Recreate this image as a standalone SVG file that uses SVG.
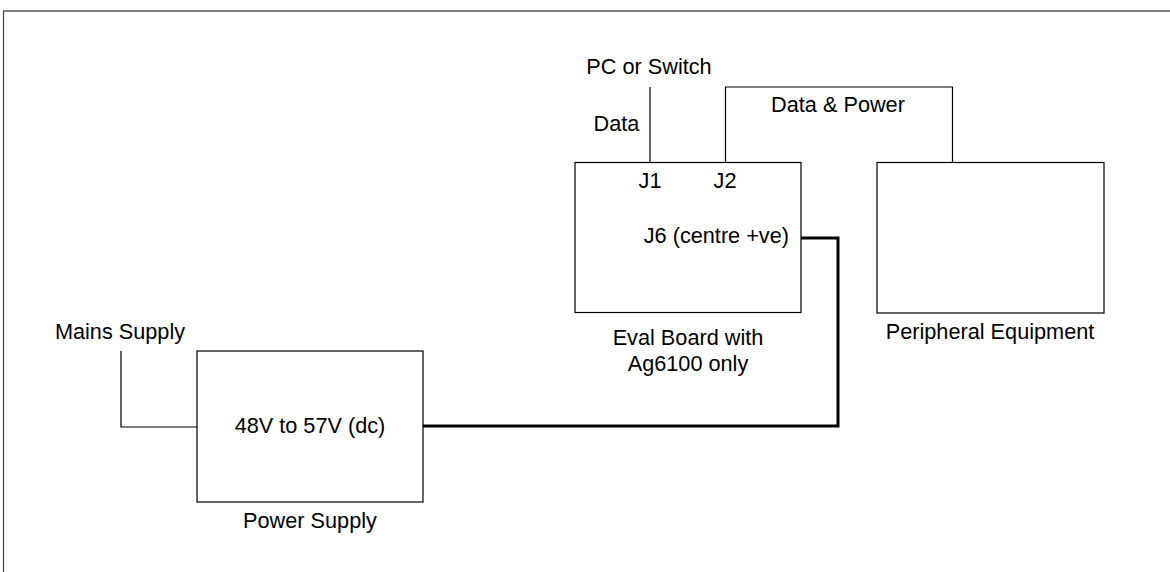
<svg xmlns="http://www.w3.org/2000/svg" width="1170" height="572" viewBox="0 0 1170 572">
<style>
text{font-family:"Liberation Sans",Arial,sans-serif;font-size:21.7px;fill:#000}
.box{fill:#fff;stroke:#000;stroke-width:1.2}
.thin{fill:none;stroke:#000;stroke-width:1.2}
.thick{fill:none;stroke:#000;stroke-width:3}
.c{text-anchor:middle}
</style>
<rect width="1170" height="572" fill="#fff"/>
<g id="frame">
<line x1="3" y1="11" x2="1170" y2="11" stroke="#808080" stroke-width="2"/>
<line x1="3.5" y1="11" x2="3.5" y2="572" stroke="#404040" stroke-width="1.2"/>
</g>
<g id="connectors">
<polyline class="thin" points="650,87 650,162"/>
<polyline class="thin" points="725.5,162 725.5,87 952.5,87 952.5,162"/>
<polyline class="thin" points="121,351 121,427 197,427"/>
<polyline class="thick" points="801,238 838,238 838,426 423,426"/>
</g>
<g id="pc-switch">
<text class="c" x="649" y="74">PC or Switch</text>
<text class="c" x="616.5" y="131">Data</text>
</g>
<g id="data-power">
<text class="c" x="838" y="112">Data &amp; Power</text>
</g>
<g id="eval-board">
<rect class="box" x="575" y="162.5" width="226" height="150"/>
<text class="c" x="650" y="188">J1</text>
<text class="c" x="725" y="188">J2</text>
<text x="789" y="243" text-anchor="end">J6 (centre +ve)</text>
<text class="c" x="688" y="345">Eval Board with</text>
<text class="c" x="688" y="370.5">Ag6100 only</text>
</g>
<g id="peripheral">
<rect class="box" x="877" y="162.5" width="227" height="150.5"/>
<text class="c" x="990" y="339">Peripheral Equipment</text>
</g>
<g id="mains">
<text class="c" x="120" y="339">Mains Supply</text>
</g>
<g id="power-supply">
<rect class="box" x="197" y="351" width="226" height="151"/>
<text class="c" x="310" y="433">48V to 57V (dc)</text>
<text class="c" x="310" y="528">Power Supply</text>
</g>
</svg>
